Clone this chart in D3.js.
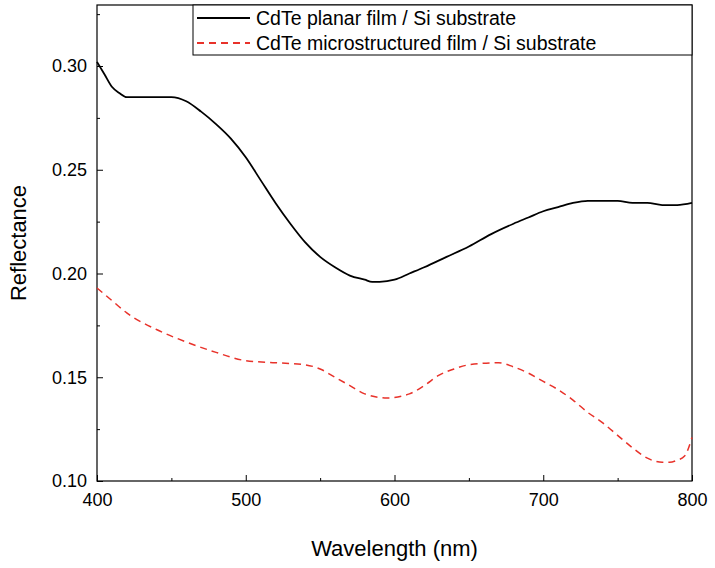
<!DOCTYPE html>
<html><head><meta charset="utf-8">
<script src="https://cdn.jsdelivr.net/npm/d3@7"></script>
<style>body{margin:0;background:#fff}text{font-family:Arial,"Liberation Sans",sans-serif}</style>
</head><body><svg id="c" width="715" height="568"></svg>
<script>
// Wavelength (nm) and reflectance
const planarX = [400,405,410,415,420,430,450,460,470,480,490,500,510,520,530,540,550,560,570,580,585,590,600,610,620,635,650,665,680,690,700,710,720,730,740,750,760,770,780,790,800];
const planarY = [0.302,0.296,0.290,0.287,0.285,0.285,0.285,0.283,0.278,0.272,0.265,0.256,0.245,0.234,0.224,0.215,0.208,0.203,0.199,0.197,0.196,0.196,0.197,0.200,0.203,0.208,0.213,0.219,0.224,0.227,0.230,0.232,0.234,0.235,0.235,0.235,0.234,0.234,0.233,0.233,0.234];
const microX = [400,410,420,440,460,480,500,520,540,550,560,570,580,595,610,620,630,640,650,670,680,690,700,710,720,730,740,750,760,770,780,785,790,795,800];
const microY = [0.193,0.187,0.181,0.173,0.167,0.162,0.158,0.157,0.156,0.154,0.150,0.146,0.142,0.140,0.142,0.146,0.151,0.154,0.156,0.157,0.155,0.152,0.148,0.144,0.139,0.133,0.128,0.122,0.116,0.111,0.109,0.109,0.110,0.112,0.121];
const legendLabels = ["CdTe planar film / Si substrate", "CdTe microstructured film / Si substrate"];
const yTicks = [0.10,0.15,0.20,0.25,0.30];
const xTicks = [400,500,600,700,800];

const svg = d3.select('#c');
const m = {l:97, r:692, t:5, b:481};
const x = d3.scaleLinear().domain([400,800]).range([m.l,m.r]);
const y = d3.scaleLinear().domain([0.10,0.3294]).range([m.b,m.t]);

// Axes with inward ticks
svg.append('g').attr('transform',`translate(0,${m.b})`)
  .call(d3.axisBottom(x).tickValues(xTicks).tickSizeInner(-6).tickSizeOuter(0).tickPadding(12));
svg.append('g').attr('transform',`translate(${m.l},0)`)
  .call(d3.axisLeft(y).tickValues(yTicks).tickFormat(d3.format('.2f')).tickSizeInner(-6).tickSizeOuter(0).tickPadding(10));
svg.append('g').attr('transform',`translate(0,${m.b})`)
  .call(d3.axisBottom(x).tickValues(d3.range(450,800,100)).tickSize(-3).tickFormat(''));
svg.append('g').attr('transform',`translate(${m.l},0)`)
  .call(d3.axisLeft(y).tickValues(d3.range(0.125,0.33,0.05)).tickSize(-3).tickFormat(''));
svg.selectAll('.domain').remove();
svg.selectAll('.tick text').style('font-size','18px').attr('fill','#000');
svg.selectAll('.tick line').attr('stroke','#000');

svg.append('rect').attr('x',m.l).attr('y',m.t).attr('width',m.r-m.l).attr('height',m.b-m.t)
  .attr('fill','none').attr('stroke','#000').attr('stroke-width',1.2);

const line = d3.line().x(d=>x(d[0])).y(d=>y(d[1])).curve(d3.curveMonotoneX);
svg.append('path').datum(d3.zip(planarX,planarY)).attr('d',line)
  .attr('fill','none').attr('stroke','#000').attr('stroke-width',1.8);
svg.append('path').datum(d3.zip(microX,microY)).attr('d',line)
  .attr('fill','none').attr('stroke','#e8322a').attr('stroke-width',1.5).attr('stroke-dasharray','7,5');

// Legend
const lg = svg.append('g');
lg.append('rect').attr('x',193).attr('y',m.t).attr('width',m.r-193).attr('height',50)
  .attr('fill','#fff').attr('stroke','#000');
[['#000',null],['#e8322a','7,5']].forEach((s,i)=>{
  const yy = 18 + i*25;
  lg.append('line').attr('x1',197).attr('x2',250).attr('y1',yy).attr('y2',yy)
    .attr('stroke',s[0]).attr('stroke-width',1.8).attr('stroke-dasharray',s[1]);
  lg.append('text').attr('x',256).attr('y',yy+7).text(legendLabels[i]).style('font-size','19.5px');
});

svg.append('text').attr('x',(m.l+m.r)/2).attr('y',556).attr('text-anchor','middle')
  .style('font-size','22px').text('Wavelength (nm)');
svg.append('text').attr('transform',`translate(26,${(m.t+m.b)/2}) rotate(-90)`).attr('text-anchor','middle')
  .style('font-size','22px').text('Reflectance');
</script></body></html>
